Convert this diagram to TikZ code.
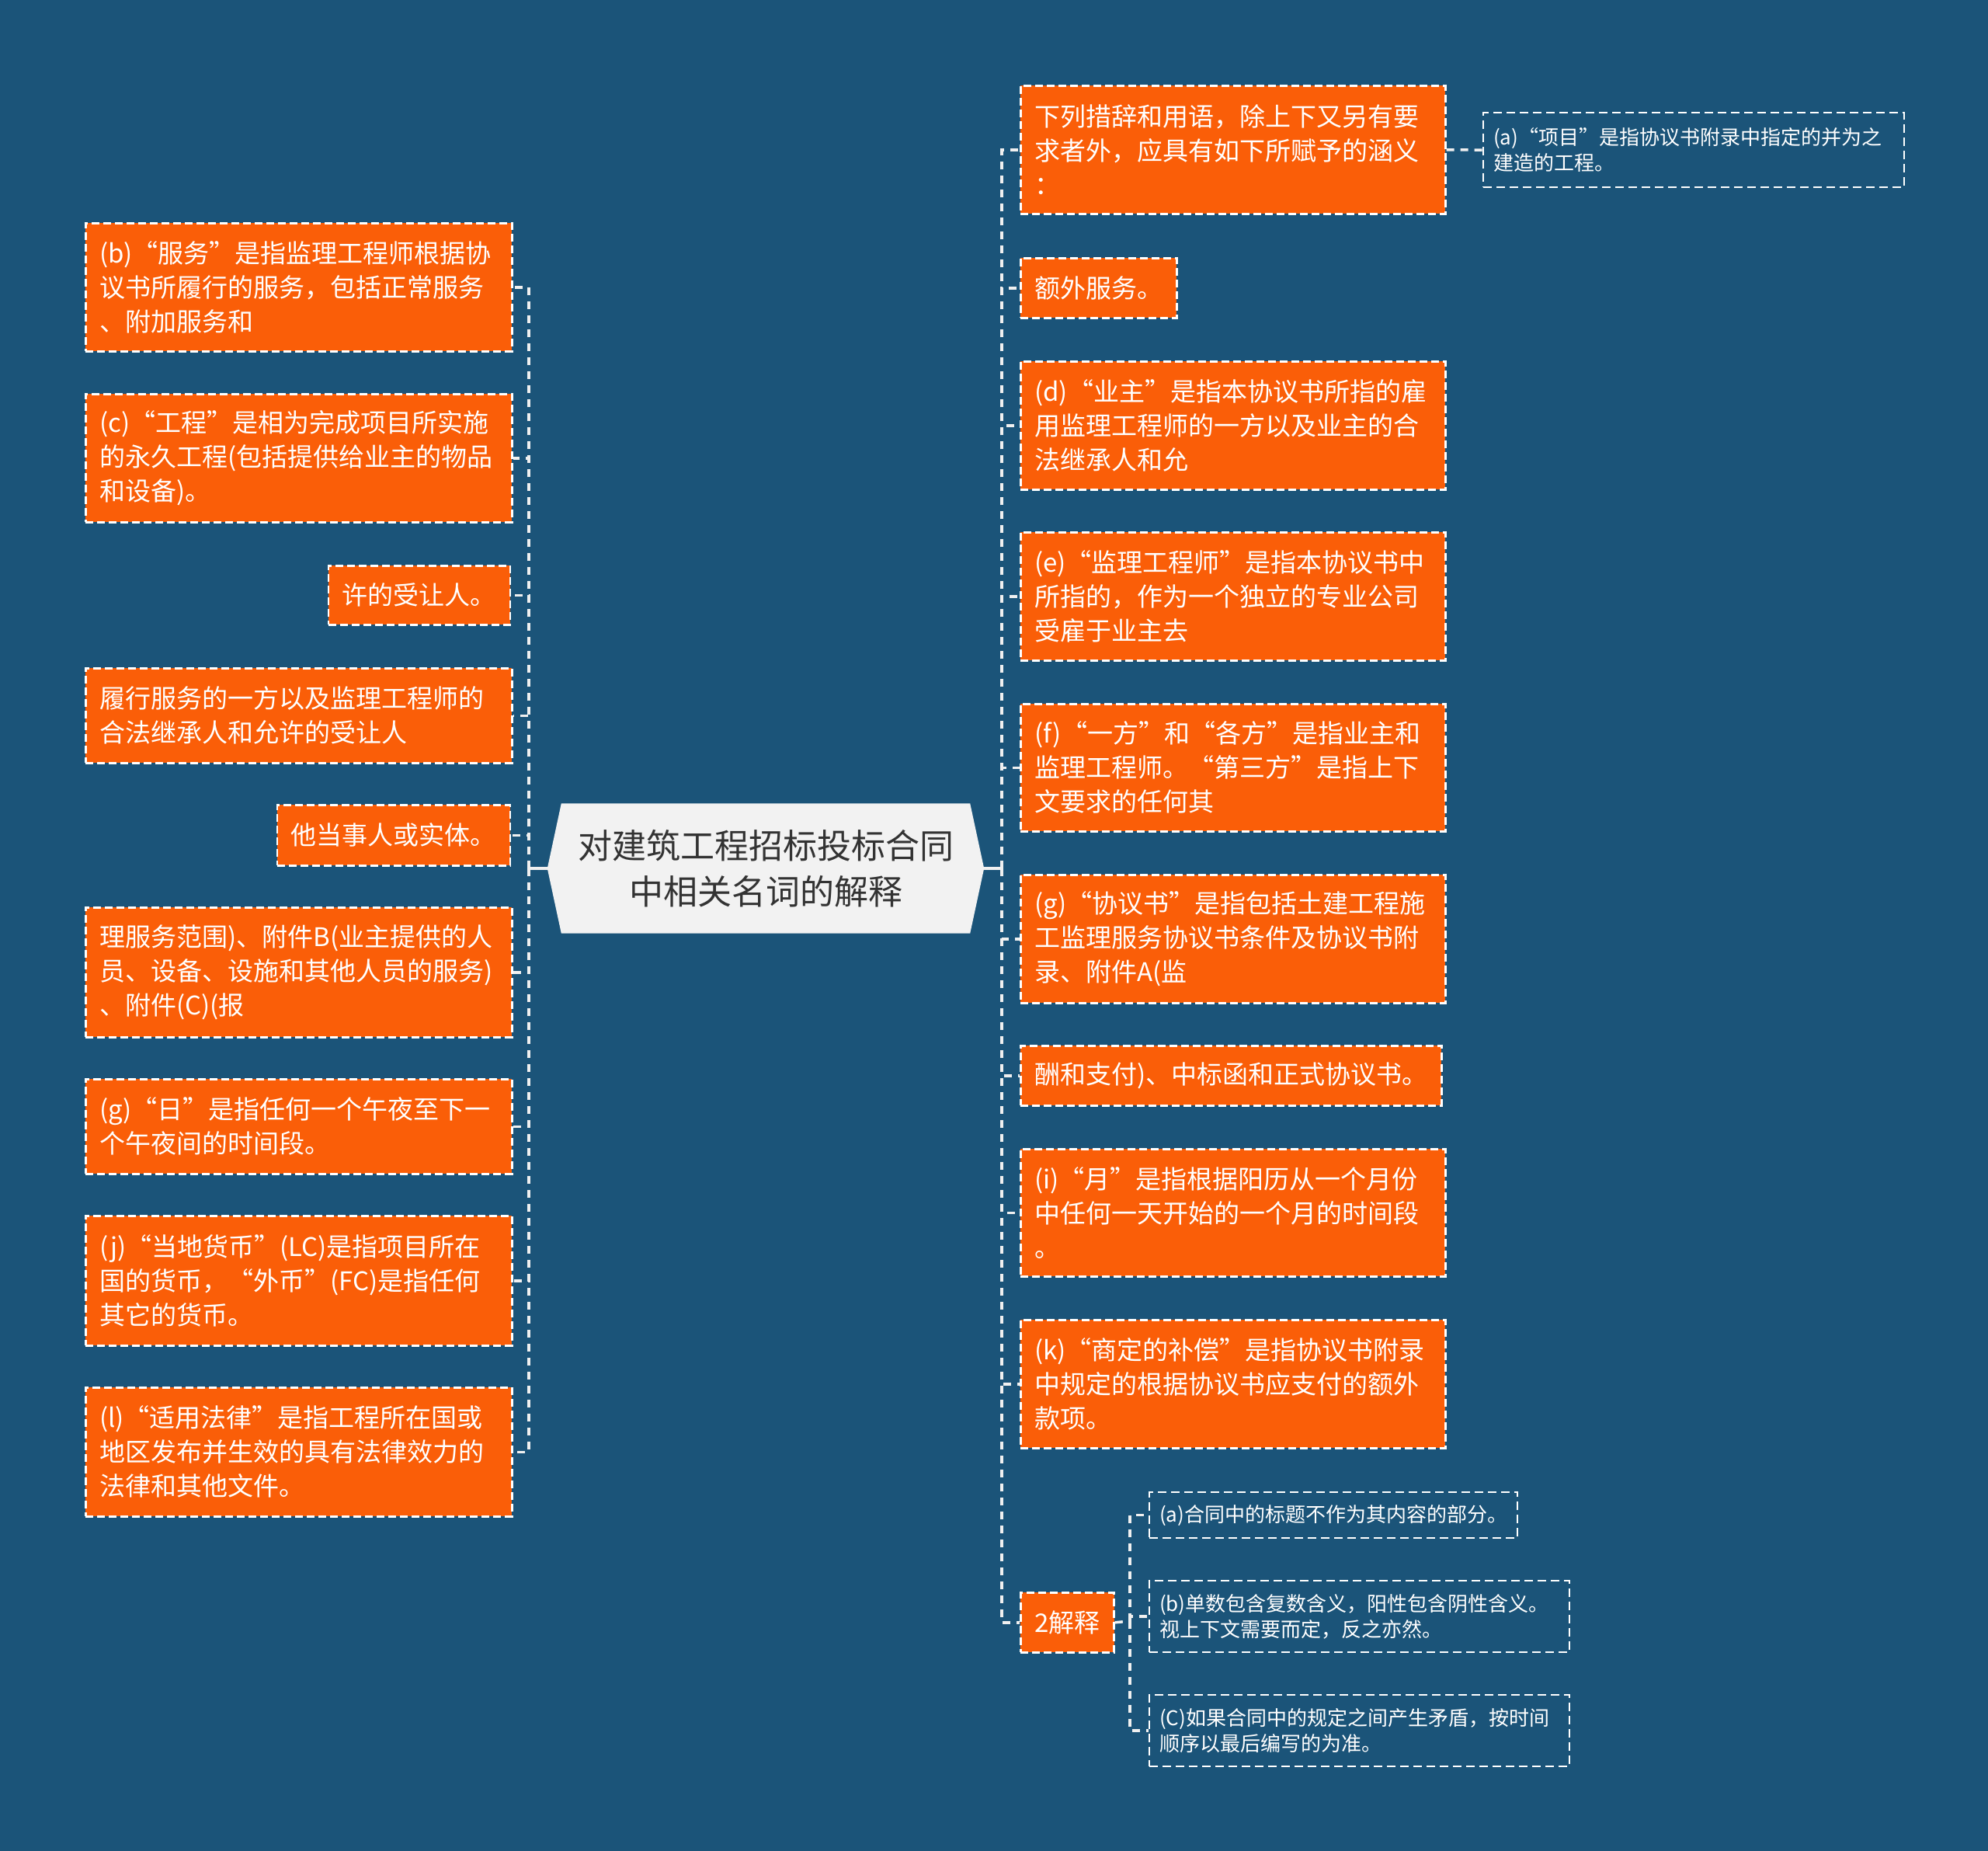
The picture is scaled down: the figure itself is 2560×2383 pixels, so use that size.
\documentclass[tikz,border=0pt]{standalone}
\usepackage{fontspec}
\newfontfamily\cjk{Noto Sans CJK SC}
\usetikzlibrary{calc}
\definecolor{bgc}{RGB}{27,84,121}
\definecolor{org}{RGB}{250,94,8}
\definecolor{rootfill}{RGB}{242,242,242}
\definecolor{roottext}{RGB}{51,51,51}
\definecolor{linec}{RGB}{240,240,240}
\pgfdeclarelayer{back}
\pgfdeclarelayer{mid}
\pgfsetlayers{back,mid,main}
\begin{document}
\begin{tikzpicture}[x=1pt,y=-1pt,
  obox/.style={draw=white, line width=2.5pt, dash pattern=on 10pt off 5pt, fill=org, text=white,
    font=\cjk\fontsize{33}{44}\selectfont, inner xsep=18pt, inner ysep=0pt, align=left},
  lbox/.style={obox, text width=513pt, anchor=north west},
  rbox/.style={obox, text width=511pt, anchor=north west},
  sbox/.style={draw=white, line width=2.2pt, dash pattern=on 11pt off 6pt, text=white,
    font=\cjk\fontsize{26}{33}\selectfont, inner xsep=13pt, inner ysep=0pt, align=left, anchor=north west},
  rootnode/.style={text=roottext, font=\cjk\fontsize{44}{59}\selectfont, align=center,
    minimum width=562pt, minimum height=167pt, inner sep=0pt},
  conn/.style={draw=linec, line width=3.5pt, dash pattern=on 10pt off 8pt},
  solidconn/.style={draw=linec, line width=3.5pt}
]
\useasboundingbox (0,0) rectangle (2560,2383);
\begin{pgfonlayer}{back}
\fill[bgc] (0,0) rectangle (2560,2383);
\end{pgfonlayer}

% root
\node[rootnode] (root) at (986,1118) {对建筑工程招标投标合同\\中相关名词的解释};
\begin{pgfonlayer}{mid}
\fill[rootfill] (root.west) -- ([xshift=18pt]root.north west) -- ([xshift=-18pt]root.north east)
  -- (root.east) -- ([xshift=-18pt]root.south east) -- ([xshift=18pt]root.south west) -- cycle;
\end{pgfonlayer}

% left side
\node[lbox, minimum height=165pt] (L1) at (109,286) {(b)“服务”是指监理工程师根据协\\议书所履行的服务，包括正常服务\\、附加服务和};
\node[lbox, minimum height=165pt] (L2) at (109,506) {(c)“工程”是相为完成项目所实施\\的永久工程(包括提供给业主的物品\\和设备)。};
\node[obox, anchor=north east, minimum height=76pt] (L3) at (658,727) {许的受让人。};
\node[lbox, minimum height=122pt] (L4) at (109,859) {履行服务的一方以及监理工程师的\\合法继承人和允许的受让人};
\node[obox, anchor=north east, minimum height=78pt] (L5) at (658,1035) {他当事人或实体。};
\node[lbox, minimum height=167pt] (L6) at (109,1167) {理服务范围)、附件B(业主提供的人\\员、设备、设施和其他人员的服务)\\、附件(C)(报};
\node[lbox, minimum height=122pt] (L7) at (109,1388) {(g)“日”是指任何一个午夜至下一\\个午夜间的时间段。};
\node[lbox, minimum height=167pt] (L8) at (109,1564) {(j)“当地货币”(LC)是指项目所在\\国的货币，“外币”(FC)是指任何\\其它的货币。};
\node[lbox, minimum height=166pt] (L9) at (109,1785) {(l)“适用法律”是指工程所在国或\\地区发布并生效的具有法律效力的\\法律和其他文件。};

% right side
\node[rbox, minimum height=165pt] (R1) at (1313,109) {下列措辞和用语，除上下又另有要\\求者外，应具有如下所赋予的涵义\\：};
\node[sbox, text width=516pt, minimum height=96pt] (R1a) at (1909,144) {(a)“项目”是指协议书附录中指定的并为之\\建造的工程。};
\node[obox, anchor=north west, minimum height=77pt] (R2) at (1313,331) {额外服务。};
\node[rbox, minimum height=165pt] (R3) at (1313,464) {(d)“业主”是指本协议书所指的雇\\用监理工程师的一方以及业主的合\\法继承人和允};
\node[rbox, minimum height=165pt] (R4) at (1313,684) {(e)“监理工程师”是指本协议书中\\所指的，作为一个独立的专业公司\\受雇于业主去};
\node[rbox, minimum height=164pt] (R5) at (1313,905) {(f)“一方”和“各方”是指业主和\\监理工程师。“第三方”是指上下\\文要求的任何其};
\node[rbox, minimum height=165pt] (R6) at (1313,1125) {(g)“协议书”是指包括土建工程施\\工监理服务协议书条件及协议书附\\录、附件A(监};
\node[obox, anchor=north west, minimum height=77pt] (R7) at (1313,1345) {酬和支付)、中标函和正式协议书。};
\node[rbox, minimum height=164pt] (R8) at (1313,1478) {(i)“月”是指根据阳历从一个月份\\中任何一天开始的一个月的时间段\\。};
\node[rbox, minimum height=165pt] (R9) at (1313,1698) {(k)“商定的补偿”是指协议书附录\\中规定的根据协议书应支付的额外\\款项。};
\node[obox, anchor=north west, minimum height=77pt] (R10) at (1313,2049) {2解释};
\node[sbox, minimum height=59pt] (S1) at (1479,1920) {(a)合同中的标题不作为其内容的部分。};
\node[sbox, text width=515pt, minimum height=92pt] (S2) at (1479,2034) {(b)单数包含复数含义，阳性包含阴性含义。\\视上下文需要而定，反之亦然。};
\node[sbox, text width=515pt, minimum height=92pt] (S3) at (1479,2181) {(C)如果合同中的规定之间产生矛盾，按时间\\顺序以最后编写的为准。};

% connectors
\coordinate (lb) at (681,1118);
\coordinate (rb) at (1290,1118);
\coordinate (sb) at (1455,2087);
\draw[solidconn] (root.west) -- (lb);
\draw[solidconn] (root.east) -- (rb);
\foreach \n in {L1,L2,L3,L4,L5,L6,L7,L8,L9} {\draw[conn] (lb) |- (\n.east);}
\foreach \n in {R1,R2,R3,R4,R5,R6,R7,R8,R9,R10} {\draw[conn] (rb) |- (\n.west);}
\draw[conn] (R1.east) -- (R1a.west);
\draw[conn] (R10.east) -- (sb);
\foreach \n in {S1,S2,S3} {\draw[conn] (sb) |- (\n.west);}
\end{tikzpicture}
\end{document}
